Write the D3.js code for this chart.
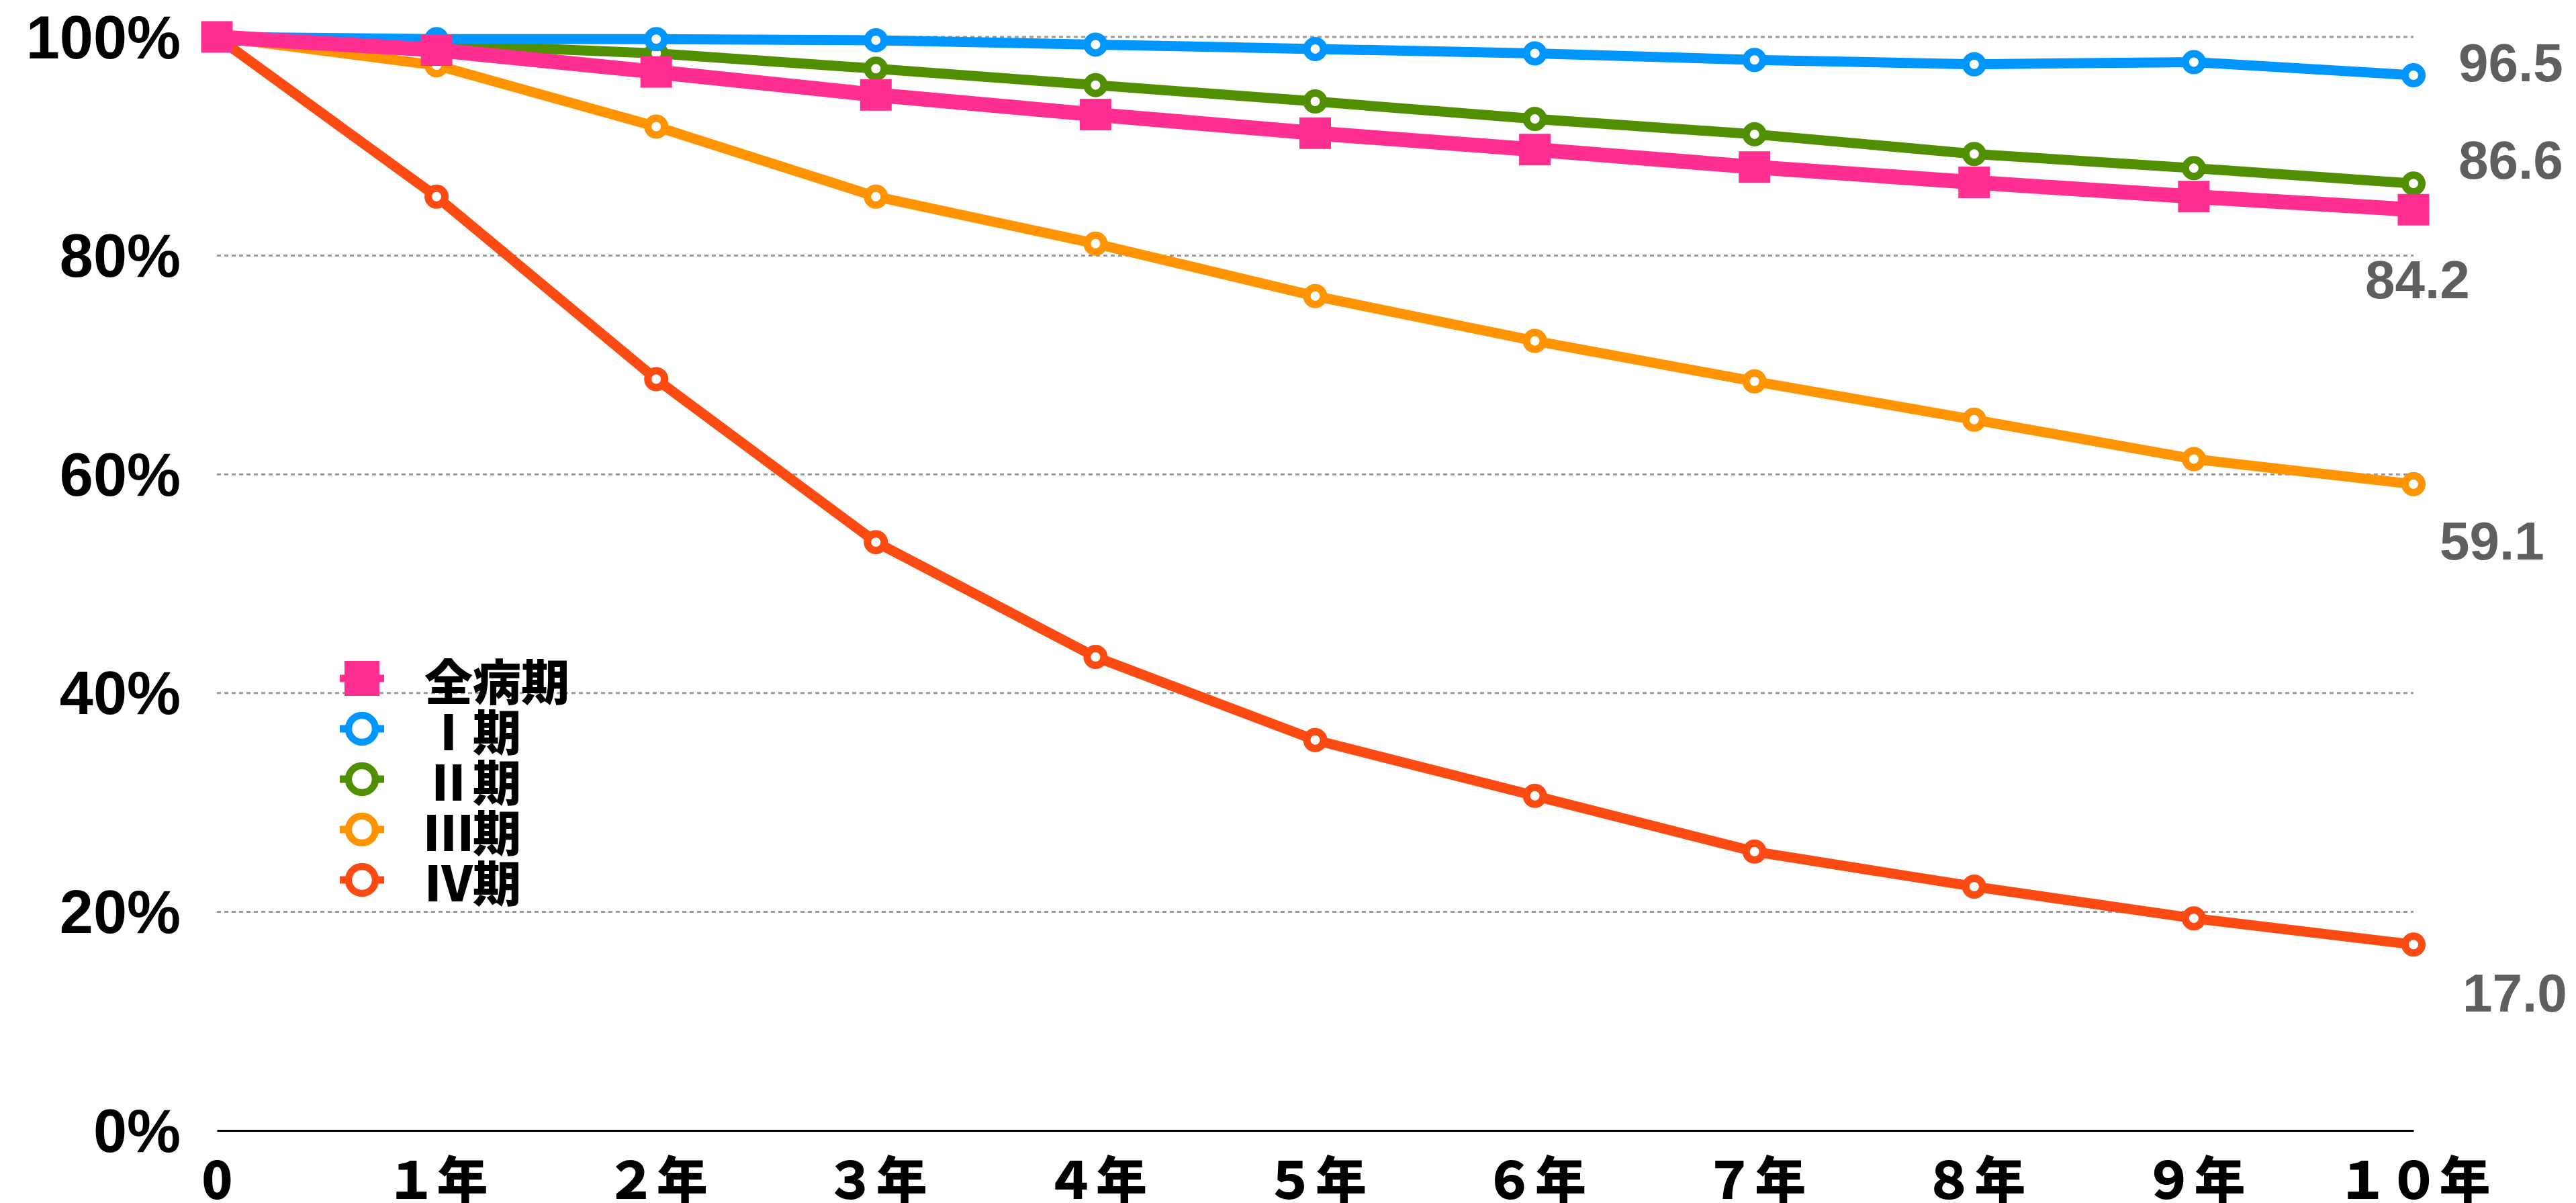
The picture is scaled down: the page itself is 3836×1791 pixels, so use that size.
<!DOCTYPE html>
<html lang="ja">
<head>
<meta charset="utf-8">
<script src="https://cdn.jsdelivr.net/npm/d3@7/dist/d3.min.js"></script>
<style>
  html, body { margin: 0; padding: 0; background: #fff; }
  svg { display: block; }
</style>
</head>
<body>
<svg id="chart" width="3836" height="1791"></svg>
<script>
// Survival rate (%) by year after diagnosis, per stage
const years = [0, 1, 2, 3, 4, 5, 6, 7, 8, 9, 10];
const yearLabels = ["0", "１年", "２年", "３年", "４年", "５年", "６年", "７年", "８年", "９年", "１０年"];
const yTicks = [0, 20, 40, 60, 80, 100];

const seriesNames = ["全病期", "Ⅰ期", "Ⅱ期", "Ⅲ期", "Ⅳ期"];
const allStages = [100, 98.8, 96.8, 94.7, 92.9, 91.2, 89.7, 88.1, 86.7, 85.4, 84.2];
const stage1 = [100, 99.8, 99.8, 99.7, 99.3, 98.9, 98.5, 97.9, 97.5, 97.7, 96.5];
const stage2 = [100, 99.3, 98.5, 97.1, 95.6, 94.1, 92.5, 91.1, 89.3, 88.0, 86.6];
const stage3 = [100, 97.4, 91.8, 85.4, 81.1, 76.3, 72.2, 68.5, 65.0, 61.4, 59.1];
const stage4 = [100, 85.4, 68.7, 53.8, 43.3, 35.7, 30.6, 25.5, 22.3, 19.4, 17.0];
const endLabels = ["84.2", "96.5", "86.6", "59.1", "17.0"];

const seriesColors = ["#ff2f92", "#0096ff", "#4f8f00", "#ff9300", "#fb4b12"];
const seriesMarkers = ["square", "circle", "circle", "circle", "circle"];
// label offsets from the last point (dx, dy)
const labelNudge = [[-72, 104], [67, -18], [67, -35], [39, 85], [73, 72]];

const seriesValues = [allStages, stage1, stage2, stage3, stage4];
const series = seriesNames.map((name, i) => ({
  name,
  color: seriesColors[i],
  marker: seriesMarkers[i],
  label: endLabels[i],
  nudge: labelNudge[i],
  values: years.map((yr, j) => ({ year: yr, value: seriesValues[i][j] }))
}));

const svg = d3.select("#chart");
const x = d3.scaleLinear().domain([0, 10]).range([323, 3594]);
const y = d3.scaleLinear().domain([0, 100]).range([1683, 55]);

const latinFont = "'Liberation Sans', Arial, sans-serif";
const cjkFont = "'Noto Sans CJK JP', 'Noto Sans CJK SC', sans-serif";

// dotted horizontal gridlines
svg.append("g")
  .selectAll("line")
  .data(yTicks.filter(t => t > 0))
  .join("line")
  .attr("x1", x(0)).attr("x2", x(10))
  .attr("y1", d => y(d)).attr("y2", d => y(d))
  .attr("stroke", "#999")
  .attr("stroke-width", 3)
  .attr("stroke-dasharray", "6,5");

// y axis labels
const yAxis = svg.append("g")
  .attr("transform", `translate(${x(0)},0)`)
  .call(d3.axisLeft(y).tickValues(yTicks).tickFormat(d => d + "%").tickSize(0).tickPadding(54));
yAxis.select(".domain").remove();
yAxis.selectAll("text")
  .attr("dy", null)
  .attr("dominant-baseline", "central")
  .attr("fill", "#000")
  .style("font-family", latinFont)
  .style("font-weight", "bold")
  .style("font-size", "90px");

// x axis
const xAxis = svg.append("g")
  .attr("transform", `translate(0,${y(0)})`)
  .call(d3.axisBottom(x).tickValues(years).tickFormat((d, i) => yearLabels[i]).tickSize(0).tickPadding(0));
xAxis.select(".domain")
  .attr("stroke", "#000")
  .attr("stroke-width", 3);
xAxis.selectAll("text")
  .attr("y", 69)
  .attr("dy", null)
  .attr("dominant-baseline", "central")
  .attr("fill", "#000")
  .style("font-family", cjkFont)
  .style("font-weight", 900)
  .style("font-size", "76px");

// lines and markers, drawn back to front
const line = d3.line().x(d => x(d.year)).y(d => y(d.value));
const drawOrder = series.slice().reverse();

const groups = svg.append("g")
  .selectAll("g")
  .data(drawOrder)
  .join("g");

groups.append("path")
  .attr("d", d => line(d.values))
  .attr("fill", "none")
  .attr("stroke", d => d.color)
  .attr("stroke-width", d => d.marker === "square" ? 22 : 15)
  .attr("stroke-linejoin", "round");

groups.each(function (s) {
  const g = d3.select(this);
  if (s.marker === "square") {
    g.selectAll("rect")
      .data(s.values)
      .join("rect")
      .attr("x", d => x(d.year) - 23.5)
      .attr("y", d => y(d.value) - 23.5)
      .attr("width", 47)
      .attr("height", 47)
      .attr("fill", s.color);
  } else {
    g.selectAll("circle")
      .data(s.values)
      .join("circle")
      .attr("cx", d => x(d.year))
      .attr("cy", d => y(d.value))
      .attr("r", 12.5)
      .attr("fill", "#fff")
      .attr("stroke", s.color)
      .attr("stroke-width", 11);
  }
});

// value labels at year 10
svg.append("g")
  .selectAll("text")
  .data(series)
  .join("text")
  .attr("x", d => x(10) + d.nudge[0])
  .attr("y", d => y(d.values[d.values.length - 1].value) + d.nudge[1])
  .attr("dominant-baseline", "central")
  .attr("fill", "#5f5f5f")
  .style("font-family", latinFont)
  .style("font-weight", "bold")
  .style("font-size", "80px")
  .text(d => d.label);

// legend
const legend = svg.append("g")
  .selectAll("g")
  .data(series)
  .join("g")
  .attr("transform", (d, i) => `translate(539,${1010 + i * 75})`);

legend.append("line")
  .attr("x1", -33).attr("x2", 33)
  .attr("stroke", d => d.color)
  .attr("stroke-width", 11);

legend.filter(d => d.marker === "square")
  .append("rect")
  .attr("x", -26).attr("y", -26)
  .attr("width", 52).attr("height", 52)
  .attr("fill", d => d.color);

legend.filter(d => d.marker === "circle")
  .append("circle")
  .attr("r", 20)
  .attr("fill", "#fff")
  .attr("stroke", d => d.color)
  .attr("stroke-width", 10.5);

legend.append("text")
  .attr("x", 93)
  .attr("dominant-baseline", "central")
  .attr("fill", "#000")
  .style("font-family", cjkFont)
  .style("font-weight", 900)
  .style("font-size", "72px")
  .text(d => d.name);
</script>
</body>
</html>
